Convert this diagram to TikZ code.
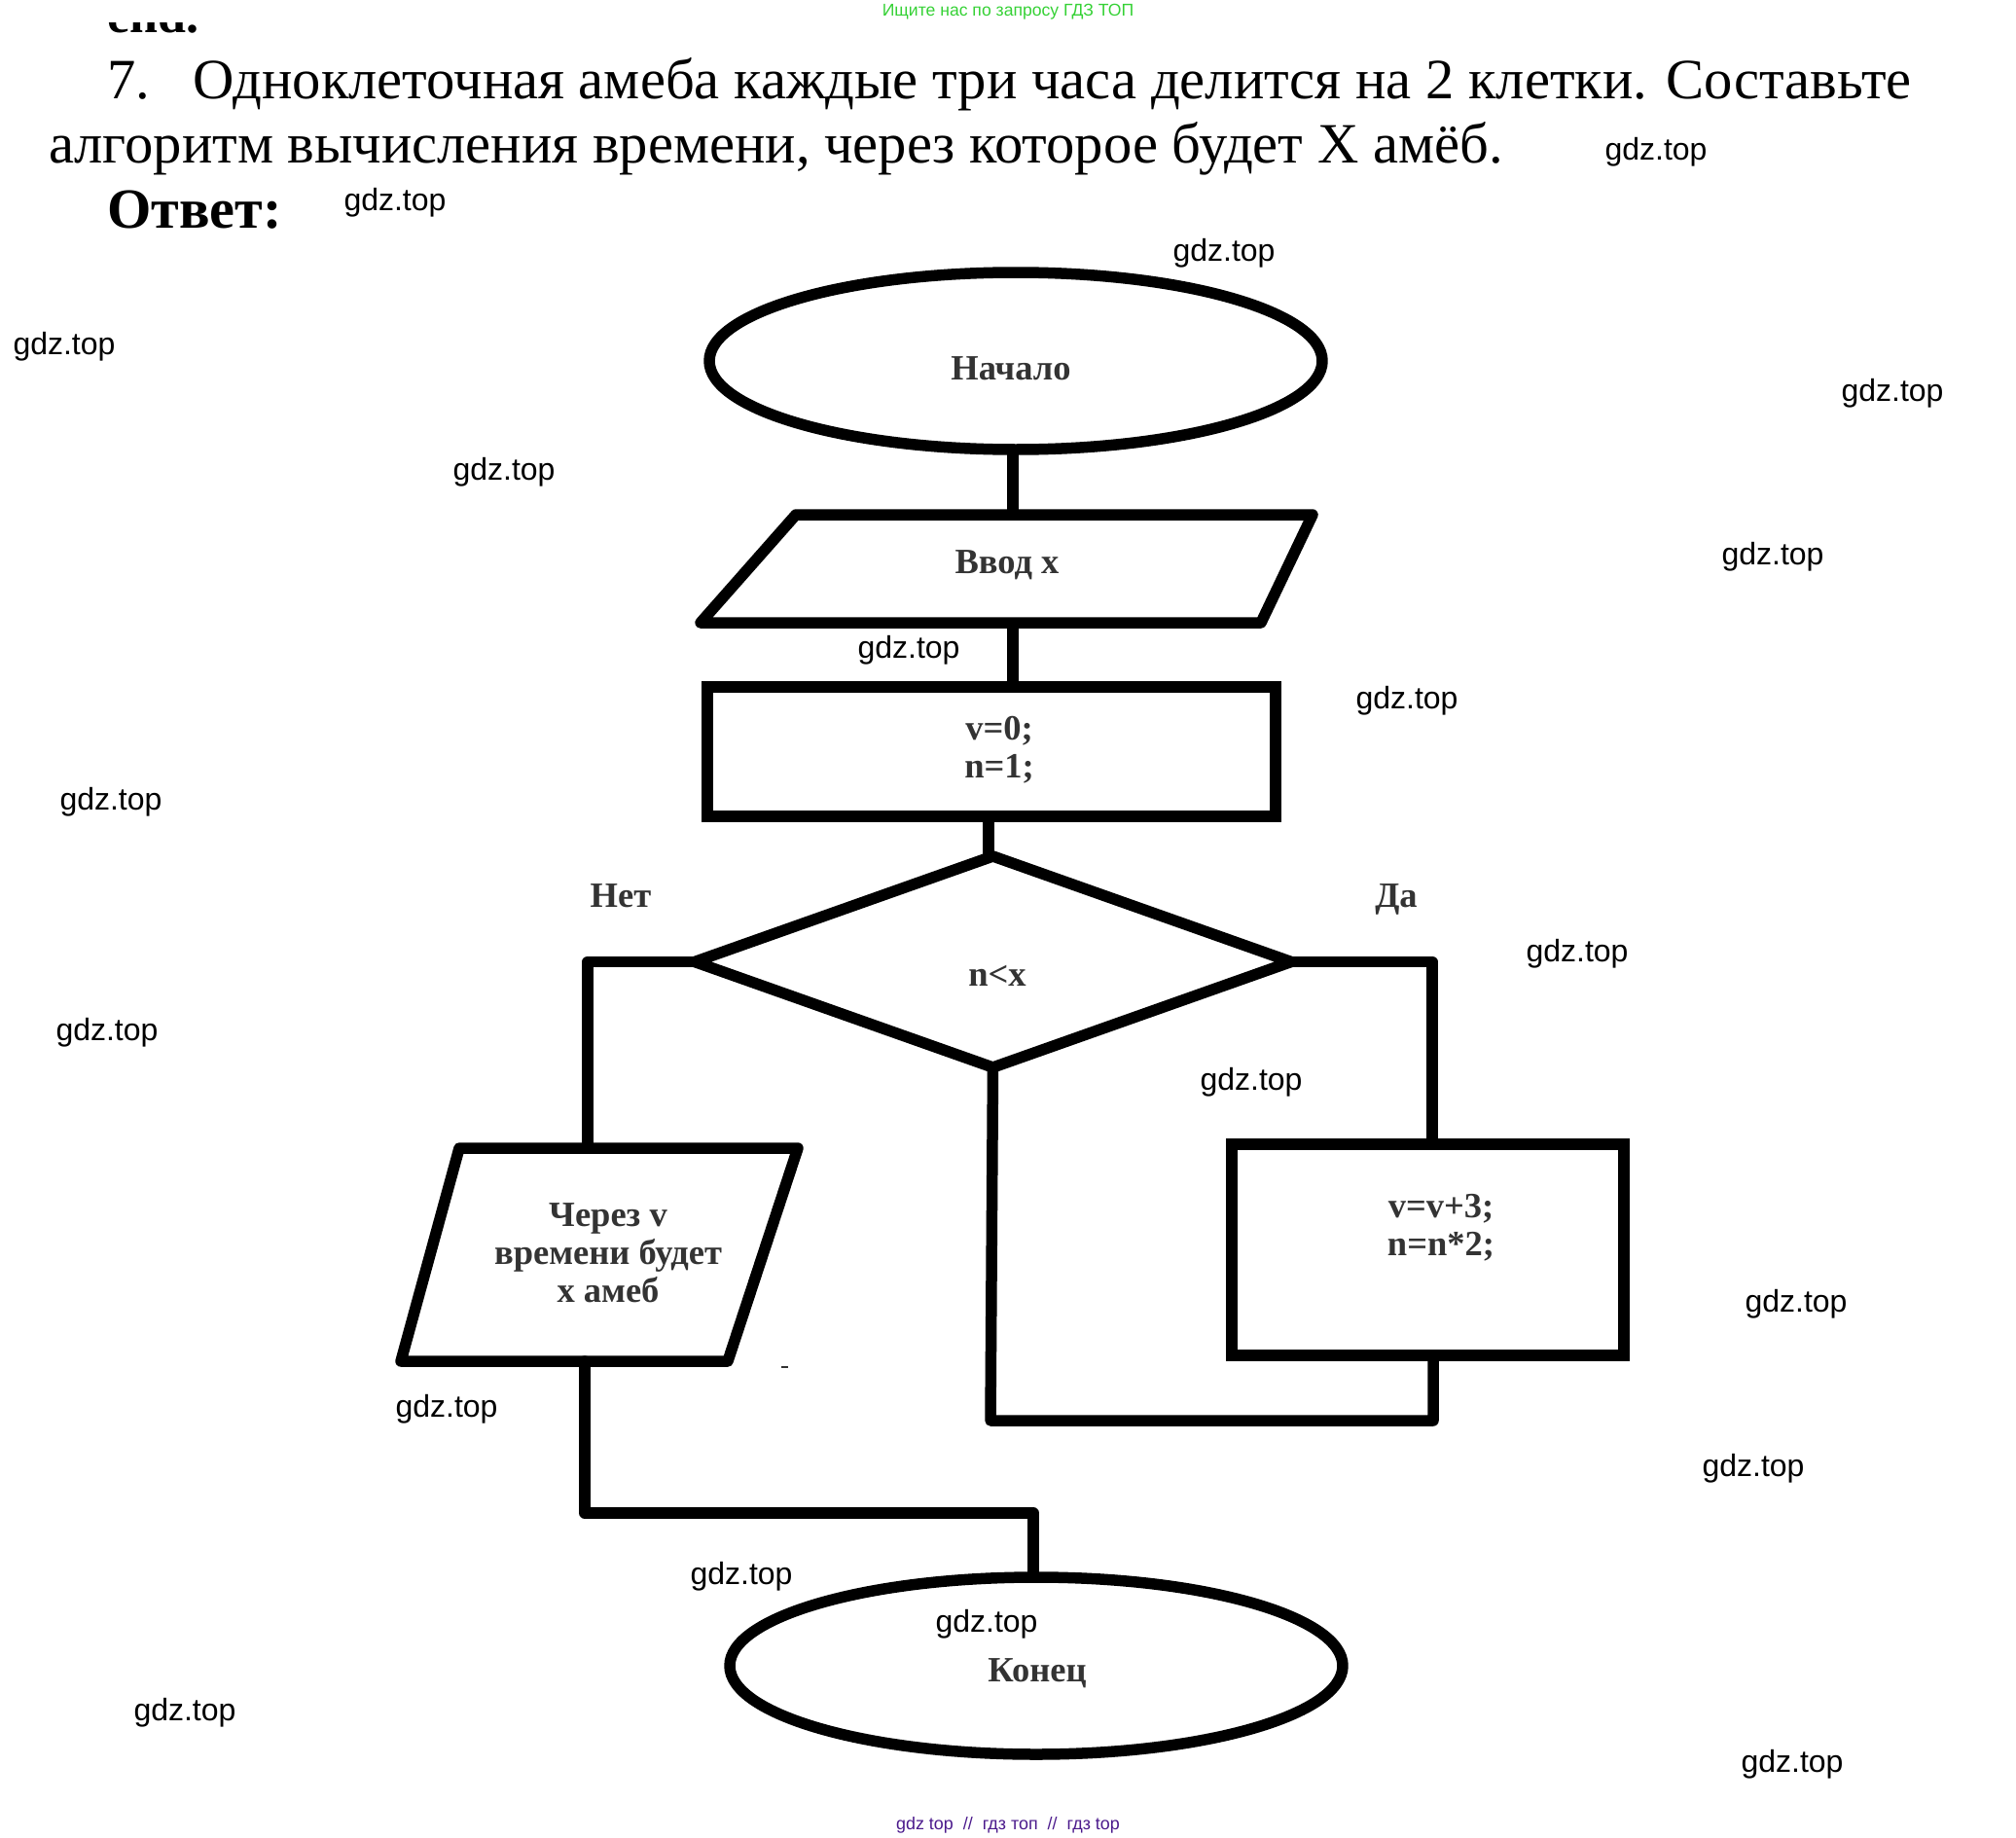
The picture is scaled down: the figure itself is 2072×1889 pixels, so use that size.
\documentclass[tikz,border=0pt]{standalone}
\usepackage{fontspec}
\setmainfont{Liberation Serif}
\newfontfamily\lsans{Liberation Sans}
\usetikzlibrary{shapes.geometric}
\definecolor{adgreen}{HTML}{35D135}
\definecolor{adpurple}{HTML}{4B1A8C}
\definecolor{labelgray}{HTML}{333333}
\tikzset{
  shapeline/.style={draw=black,line width=11.5pt,inner sep=0pt,outer sep=0pt,line join=round},
  framebox/.style={rectangle,inner sep=0pt,outer sep=0pt},
  conn/.style={draw=black,line width=11.5pt,line join=round,line cap=round},
  wm/.style={font=\lsans\fontsize{32}{32}\selectfont,text=black,inner sep=0pt,yshift=-1.5pt},
  flowtext/.style={font=\bfseries\fontsize{36.5}{39}\selectfont,text=labelgray,align=center,inner sep=0pt},
  heading/.style={font=\fontsize{58.6}{58.6}\selectfont,text=black,anchor=base west,inner sep=0pt},
}
\begin{document}
\begin{tikzpicture}[x=1pt,y=-1pt]
\useasboundingbox (0,0) rectangle (2072,1889);
% heading
\begin{scope}
\clip (0,24) rectangle (2072,60);
\node[heading,font=\bfseries\fontsize{52}{52}\selectfont] (prev) at (110,34) {end.};
\end{scope}
\node[heading] (l1) at (110,102) {7.\hspace{44pt}Одноклеточная амеба каждые три часа делится на 2 клетки. Составьте};
\node[heading] (l2) at (50,168) {алгоритм вычисления времени, через которое будет Х амёб.};
\node[heading,font=\bfseries\fontsize{58.3}{58.3}\selectfont] (ans) at (110,235) {Ответ:};
% shapes
\node[shapeline,ellipse,minimum width=630,minimum height=182] (start) at (1044,371) {};
\node[framebox,minimum width=629,minimum height=111] (inp) at (1034.5,584.5) {};
\coordinate (inpTL) at (818,529);
\coordinate (inpTR) at (1349,529);
\coordinate (inpBR) at (1296,640);
\coordinate (inpBL) at (720,640);
\draw[shapeline] (inpTL) -- (inpTR) -- (inpBR) -- (inpBL) -- cycle;
\node[shapeline,rectangle,line join=miter,minimum width=584,minimum height=133] (init) at (1019,772.5) {};
\node[shapeline,diamond,minimum width=613,minimum height=217] (cond) at (1020.5,988.5) {};
\node[shapeline,rectangle,line join=miter,minimum width=403,minimum height=217] (step) at (1467.5,1284.5) {};
\node[framebox,minimum width=408,minimum height=219] (out) at (616,1289.5) {};
\coordinate (outTL) at (472,1180);
\coordinate (outTR) at (820,1180);
\coordinate (outBR) at (748,1399);
\coordinate (outBL) at (412,1399);
\draw[shapeline] (outTL) -- (outTR) -- (outBR) -- (outBL) -- cycle;
\node[shapeline,ellipse,minimum width=630,minimum height=182] (stop) at (1065,1712) {};
% connectors
\coordinate (leftturn) at (604,988);
\coordinate (rightturn) at (1472,987);
\coordinate (loopright) at (1473,1460);
\coordinate (loopleft) at (1018,1460);
\coordinate (outturn) at (601,1555);
\coordinate (stopturn) at (1062,1555);
\draw[conn,line cap=butt] ([xshift=-3pt]start.south) -- ([xshift=6.5pt]inp.north);
\draw[conn,line cap=butt] ([xshift=6.5pt]inp.south) -- ([xshift=22pt]init.north);
\draw[conn,line cap=butt] ([xshift=-3pt]init.south) -- ([xshift=-4.5pt]cond.north);
\draw[conn] (cond.west) -| (leftturn |- out.north);
\draw[conn] (cond.east) -| (rightturn |- step.north);
\draw[conn] (loopright |- step.south) -- (loopright) -- (loopleft) -- (cond.south);
\draw[conn] (outturn |- out.south) -- (outturn) -- (stopturn) -- (stopturn |- stop.north);
% tiny mark
\coordinate (dasha) at (803,1405);
\coordinate (dashb) at (810,1405);
\draw[line width=2pt,black!80] (dasha) -- (dashb);
% flow labels
\node[flowtext] (tstart) at (1039,379) {Начало};
\node[flowtext] (tinp) at (1035,581) {Ввод х};
\node[flowtext] (tinit) at (1027,771) {v=0;\\n=1;};
\node[flowtext] (tno) at (638,921) {Нет};
\node[flowtext] (tyes) at (1435,924) {Да};
\node[flowtext] (tcond) at (1025,1003) {n<x};
\node[flowtext] (tout) at (625,1288) {Через v\\времени будет\\х амеб};
\node[flowtext] (tstep) at (1481,1262) {v=v+3;\\n=n*2;};
\node[flowtext] (tstop) at (1066,1720) {Конец};
% watermarks
\node[wm] (w1) at (1702,155) {gdz.top};
\node[wm] (w2) at (406,207) {gdz.top};
\node[wm] (w3) at (1258,259) {gdz.top};
\node[wm] (w4) at (66,355) {gdz.top};
\node[wm] (w5) at (1945,403) {gdz.top};
\node[wm] (w6) at (518,484) {gdz.top};
\node[wm] (w7) at (1822,571) {gdz.top};
\node[wm] (w8) at (934,667) {gdz.top};
\node[wm] (w9) at (1446,719) {gdz.top};
\node[wm] (w10) at (114,823) {gdz.top};
\node[wm] (w11) at (1621,979) {gdz.top};
\node[wm] (w12) at (110,1060) {gdz.top};
\node[wm] (w13) at (1286,1111) {gdz.top};
\node[wm] (w14) at (1846,1339) {gdz.top};
\node[wm] (w15) at (459,1447) {gdz.top};
\node[wm] (w16) at (1802,1508) {gdz.top};
\node[wm] (w17) at (762,1619) {gdz.top};
\node[wm] (w18) at (1014,1668) {gdz.top};
\node[wm] (w19) at (190,1759) {gdz.top};
\node[wm] (w20) at (1842,1812) {gdz.top};
\node[font=\lsans\fontsize{17.6}{17.6}\selectfont,text=adgreen,inner sep=0pt] (adtop) at (1036,12) {Ищите нас по запросу ГДЗ ТОП};
\node[font=\lsans\fontsize{17.9}{17.9}\selectfont,text=adpurple,inner sep=0pt] (adbot) at (1036,1876) {gdz top\hspace{5pt} // \hspace{5pt}гдз топ\hspace{5pt} // \hspace{5pt}гдз top};
\end{tikzpicture}
\end{document}
